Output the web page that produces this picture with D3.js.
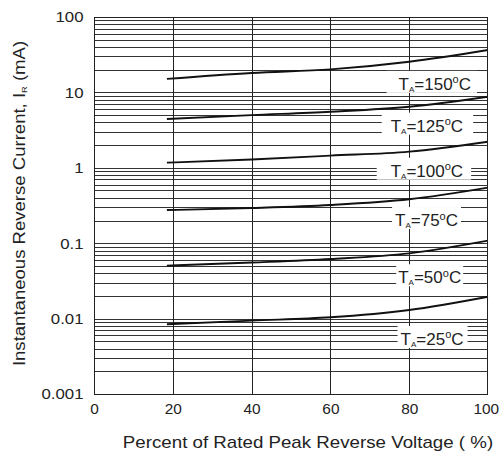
<!DOCTYPE html>
<html><head><meta charset="utf-8">
<script src="https://cdn.jsdelivr.net/npm/d3@7"></script>
<style>body{margin:0;background:#fff}text{font-family:"Liberation Sans",Arial,sans-serif;fill:#222}</style>
</head><body><svg id="c" width="500" height="452"></svg>
<script>
const xPoints = [18.5, 40, 60, 80, 100];
const temps = ["150", "125", "100", "75", "50", "25"];
const values150 = [15.1, 18.1, 20.2, 25.5, 36.5];
const values125 = [4.44, 5.0, 5.55, 6.46, 8.77];
const values100 = [1.17, 1.29, 1.45, 1.64, 2.22];
const values75 = [0.275, 0.293, 0.321, 0.382, 0.545];
const values50 = [0.0503, 0.0554, 0.0617, 0.0734, 0.108];
const values25 = [0.0084, 0.0094, 0.0104, 0.013, 0.0195];
const labelYs = [10.8, 3.01, 0.762, 0.169, 0.0294, 0.00447];
const labelXs = [86.5, 84.5, 84.5, 84.4, 85.2, 85.8];
const xTicks = [0, 20, 40, 60, 80, 100];
const yTicks = [0.001, 0.01, 0.1, 1, 10, 100];
const yTickLabels = ["0.001", "0.01", "0.1", "1", "10", "100"];

const series = [values150, values125, values100, values75, values50, values25]
  .map((v, i) => ({temp: temps[i], values: v, labelY: labelYs[i], labelX: labelXs[i]}));
// label box paddings [left, right] (style)
const pads = [[12, 6], [9, 10], [14, 8], [3, 3], [2, 2], [3, 4]];

const W = 500, H = 452, m = {l: 94, r: 12, t: 17, b: 58};
const svg = d3.select("#c");
const x = d3.scaleLinear().domain([0, 100]).range([m.l, W - m.r]);
const y = d3.scaleLog().domain([0.001, 100]).range([H - m.b, m.t]);

// grid
const minor = [];
for (let e = -3; e < 2; e++) for (let k = 1; k <= 9; k++) minor.push(k * Math.pow(10, e));
minor.push(100);
const g = svg.append("g");
g.selectAll("line.h").data(minor).join("line")
  .attr("x1", m.l).attr("x2", W - m.r)
  .attr("y1", d => Math.round(y(d)) + 0.5).attr("y2", d => Math.round(y(d)) + 0.5)
  .attr("stroke", "#333").attr("stroke-width", 1);
g.selectAll("line.v").data([20, 40, 60, 80]).join("line")
  .attr("y1", m.t).attr("y2", H - m.b)
  .attr("x1", d => Math.round(x(d)) + 0.5).attr("x2", d => Math.round(x(d)) + 0.5)
  .attr("stroke", "#222").attr("stroke-width", 1);

// curves
const line = d3.line().x((d, i) => x(xPoints[i])).y(d => y(d)).curve(d3.curveMonotoneX);
svg.selectAll("path.s").data(series).join("path")
  .attr("d", d => line(d.values)).attr("fill", "none").attr("stroke", "#111").attr("stroke-width", 1.9);

// labels
series.forEach((s, i) => {
  const lg = svg.append("g");
  const bx = x(s.labelX), by = y(s.labelY);
  const t = lg.append("text").attr("x", bx).attr("y", by)
    .attr("text-anchor", "middle").style("font-size", "17px");
  t.append("tspan").text("T");
  t.append("tspan").text("A").style("font-size", "8px").attr("dy", "2");
  t.append("tspan").text("=" + s.temp).attr("dy", "-2");
  t.append("tspan").text("o").style("font-size", "11px").attr("dy", "-6.5");
  t.append("tspan").text("C").attr("dy", "6.5");
  const bb = t.node().getBBox();
  lg.insert("rect", "text").attr("x", bb.x - pads[i][0]).attr("y", by - 19)
    .attr("width", bb.width + pads[i][0] + pads[i][1]).attr("height", 22)
    .attr("fill", "#fff");
});

// border
svg.append("rect").attr("x", m.l + 0.5).attr("y", m.t + 0.5).attr("width", W - m.l - m.r - 1).attr("height", H - m.t - m.b)
  .attr("fill", "none").attr("stroke", "#222").attr("stroke-width", 1);

// axes
const xAxis = d3.axisBottom(x).tickValues(xTicks).tickSize(0).tickPadding(10);
const xa = svg.append("g").attr("transform", `translate(0,${H - m.b})`).call(xAxis);
xa.select(".domain").remove();
xa.selectAll("text").style("font-size", "14px").attr("fill", "#222").attr("transform", "scale(1.1,1)");
xa.selectAll(".tick").filter(d => d === 100).select("text").attr("x", -2);
const yAxis = d3.axisLeft(y).tickValues(yTicks).tickFormat((d, i) => yTickLabels[i]).tickSize(0).tickPadding(9);
const ya = svg.append("g").attr("transform", `translate(${m.l},0)`).call(yAxis);
ya.select(".domain").remove();
ya.selectAll("text").style("font-size", "14px").attr("fill", "#222")
  .attr("x", -8.75).attr("dy", "0.35em").attr("transform", "scale(1.2,1)");

svg.append("text").attr("transform", "translate(308,447.5) scale(1.17,1)").attr("text-anchor", "middle")
  .style("font-size", "16px").text("Percent of Rated Peak Reverse Voltage ( %)");
const yt = svg.append("text").attr("transform", "translate(25,203.5) rotate(-90) scale(1.16,1)")
  .attr("text-anchor", "middle").style("font-size", "16px");
yt.append("tspan").text("Instantaneous Reverse Current, I");
yt.append("tspan").text("R").style("font-size", "8px").attr("dy", "2");
yt.append("tspan").text(" (mA)").attr("dy", "-2");
</script></body></html>
